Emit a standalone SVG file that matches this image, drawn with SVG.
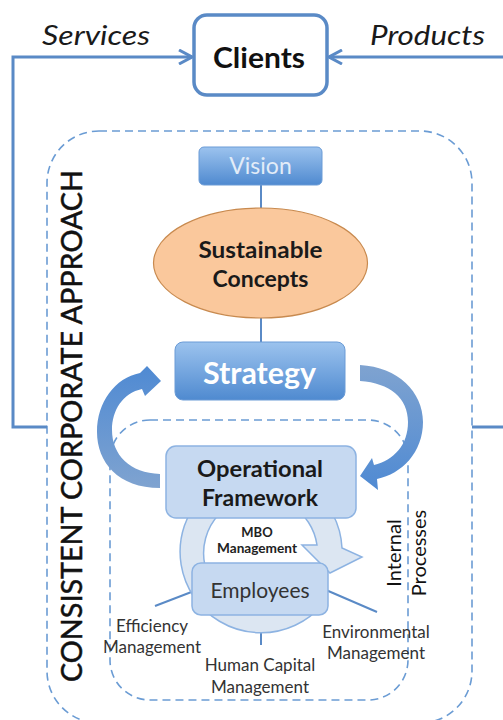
<svg xmlns="http://www.w3.org/2000/svg" width="503" height="720" viewBox="0 0 503 720">
<defs>
<style>
.t{font-family:Lato,"Liberation Sans",sans-serif;}
.link{fill:none;stroke:#5a8ac6;stroke-width:3;}
.thin{fill:none;stroke:#5a8ac6;stroke-width:2;}
.dash{fill:none;stroke:#6b9cd4;stroke-width:1.6;stroke-dasharray:8 5;}
.light{fill:#c6d9f1;stroke:#8db3e2;stroke-width:1.5;}
.lbl{font-size:17px;fill:#333;text-anchor:middle;}
</style>
<marker id="chev" viewBox="0 0 16 16" refX="15" refY="8" markerWidth="16" markerHeight="16" markerUnits="userSpaceOnUse" orient="auto">
<path d="M2,1 L15,8 L2,15" fill="none" stroke="#5a8ac6" stroke-width="3"/>
</marker>
<linearGradient id="blueBox" x1="0" y1="0" x2="0" y2="1">
<stop offset="0" stop-color="#9cc3ee"/>
<stop offset="1" stop-color="#4f8ad0"/>
</linearGradient>
<linearGradient id="arrL" x1="0" y1="0" x2="0" y2="1">
<stop offset="0" stop-color="#4f8ad3"/>
<stop offset="1" stop-color="#7fa3d0"/>
</linearGradient>
<linearGradient id="arrR" x1="0" y1="0" x2="0" y2="1">
<stop offset="0" stop-color="#7fa3d0"/>
<stop offset="1" stop-color="#4f8ad3"/>
</linearGradient>
</defs>
<rect width="503" height="720" fill="#fff"/>

<g id="containers">
<rect id="corporate" class="dash" x="47" y="131" width="425" height="592" rx="52"/>
<rect id="internal" class="dash" x="110" y="420" width="298" height="280" rx="40"/>
</g>

<g id="connectors">
<path class="link" d="M47,427 H13 V57 H192" marker-end="url(#chev)"/>
<path class="link" d="M472,427 H506 V57 H329" marker-end="url(#chev)"/>
<line class="thin" x1="261" y1="185" x2="261" y2="208"/>
<line class="thin" x1="261" y1="318" x2="261" y2="342"/>
<path d="M160,488 C118,488 97,462 97,432 C97,402 115,378 140,373 L147,366 L161,381 L145,396 L142,389 C123,393 112,410 112,430 C112,455 130,473 160,474 Z" fill="url(#arrL)"/>
<path d="M360,365 C398,367 423,392 423,422 C423,452 402,474 377,479 L378,490 L360,476 L372,458 L374,465 C394,460 408,445 408,422 C408,398 390,383 360,381 Z" fill="url(#arrR)"/>
<line class="thin" stroke-width="3" x1="155" y1="606" x2="194" y2="591"/>
<line class="thin" stroke-width="3" x1="326" y1="590" x2="377" y2="612"/>
<line class="thin" stroke-width="3" x1="261" y1="612" x2="261" y2="645"/>
</g>

<g id="mbo-cycle">
<path d="M323,604 A81,81 0 1 1 342,548 L362,557 L330,573 L302,545 L317,545 A57,57 0 1 0 305,589 Z" fill="#dce6f2" stroke="#8db3e2" stroke-width="1.5"/>
<text class="t" x="257" y="537" font-size="13" font-weight="bold" fill="#222" text-anchor="middle">MBO</text>
<text class="t" x="257" y="553" font-size="13" font-weight="bold" fill="#222" text-anchor="middle" textLength="80" lengthAdjust="spacingAndGlyphs">Management</text>
</g>

<g id="clients">
<rect x="194" y="15" width="133" height="80" rx="13" fill="#fff" stroke="#5a8ac6" stroke-width="3.5"/>
<text class="t" x="259" y="68" font-size="29" font-weight="bold" fill="#111" text-anchor="middle" textLength="92" lengthAdjust="spacingAndGlyphs">Clients</text>
</g>
<g id="services-label">
<text class="t" x="42" y="45" font-size="27" font-style="italic" fill="#1a1a1a" textLength="108" lengthAdjust="spacingAndGlyphs">Services</text>
</g>
<g id="products-label">
<text class="t" x="370" y="45" font-size="27" font-style="italic" fill="#1a1a1a" textLength="115" lengthAdjust="spacingAndGlyphs">Products</text>
</g>

<g id="vision">
<rect x="199" y="147" width="123" height="38" rx="5" fill="url(#blueBox)" stroke="#6a9bd6" stroke-width="1"/>
<text class="t" x="260.5" y="174" font-size="23" fill="#e2ecf8" text-anchor="middle">Vision</text>
</g>

<g id="sustainable">
<ellipse cx="260.5" cy="263" rx="107" ry="55" fill="#fac89c" stroke="#c88a4f" stroke-width="1.2"/>
<text class="t" x="260.5" y="258" font-size="23" font-weight="bold" fill="#1a1a1a" text-anchor="middle" textLength="124" lengthAdjust="spacingAndGlyphs">Sustainable</text>
<text class="t" x="260.5" y="287" font-size="23" font-weight="bold" fill="#1a1a1a" text-anchor="middle">Concepts</text>
</g>

<g id="strategy">
<rect x="175" y="342" width="170" height="58" rx="8" fill="url(#blueBox)" stroke="#6a9bd6" stroke-width="1"/>
<text class="t" x="259.5" y="384" font-size="30" font-weight="bold" fill="#fff" text-anchor="middle" textLength="113" lengthAdjust="spacingAndGlyphs">Strategy</text>
</g>

<g id="operational">
<rect class="light" x="166" y="446" width="190" height="72" rx="10"/>
<text class="t" x="260" y="477" font-size="23" font-weight="bold" fill="#1a1a1a" text-anchor="middle" textLength="126" lengthAdjust="spacingAndGlyphs">Operational</text>
<text class="t" x="260" y="506" font-size="23" font-weight="bold" fill="#1a1a1a" text-anchor="middle">Framework</text>
</g>

<g id="employees">
<rect class="light" x="192" y="563" width="136" height="52" rx="9"/>
<text class="t" x="260" y="598" font-size="21" fill="#333" text-anchor="middle">Employees</text>
</g>

<g id="efficiency">
<text class="t lbl" x="152" y="632">Efficiency</text>
<text class="t lbl" x="152" y="653">Management</text>
</g>
<g id="human-capital">
<text class="t lbl" x="260" y="671">Human Capital</text>
<text class="t lbl" x="260" y="693">Management</text>
</g>
<g id="environmental">
<text class="t lbl" x="376" y="638">Environmental</text>
<text class="t lbl" x="376" y="659">Management</text>
</g>

<g id="internal-label">
<text class="t" transform="translate(401,553) rotate(-90)" font-size="20" fill="#111" text-anchor="middle">Internal</text>
<text class="t" transform="translate(426,553) rotate(-90)" font-size="20" fill="#111" text-anchor="middle">Processes</text>
</g>

<g id="corporate-label">
<text class="t" transform="translate(82,426) rotate(-90)" font-size="28" fill="#111" stroke="#111" stroke-width="0.5" text-anchor="middle" textLength="512" lengthAdjust="spacingAndGlyphs">CONSISTENT CORPORATE APPROACH</text>
</g>
</svg>
